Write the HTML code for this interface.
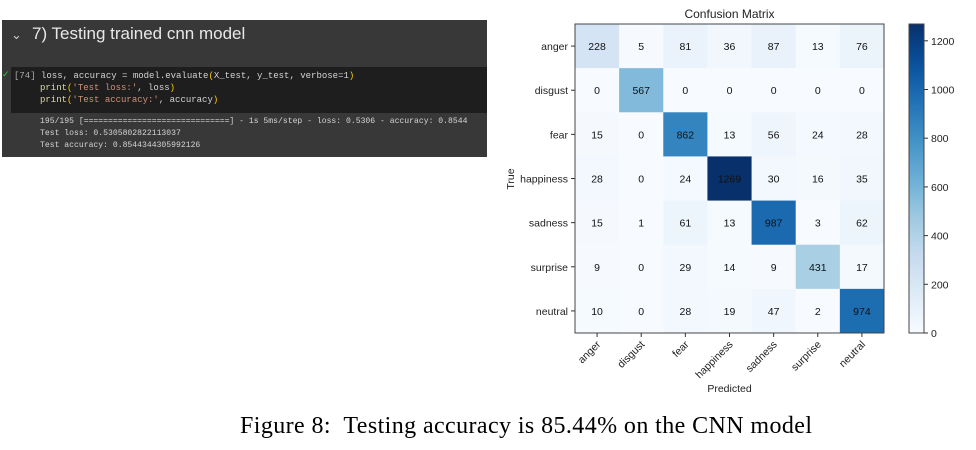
<!DOCTYPE html>
<html><head><meta charset="utf-8"><style>
body{margin:0;background:#fff;width:976px;height:450px;overflow:hidden;position:relative;font-family:"Liberation Sans",sans-serif}
#nb{position:absolute;left:2px;top:20px;width:485px;height:137px;background:#383838}
#code{position:absolute;left:11px;top:67px;width:476px;height:46px;background:#1e1e1e}
.mono{font-family:"Liberation Mono",monospace;font-size:9px;white-space:pre;position:absolute;color:#d4d4d4}
</style></head><body>
<div id="nb"></div>
<div style="position:absolute;left:11px;top:27px;color:#ccc;font-size:13px">⌄</div>
<div style="position:absolute;left:32px;top:24px;color:#e8e8e8;font-size:17px">7) Testing trained cnn model</div>
<div id="code"></div>
<div style="position:absolute;left:2px;top:69px;color:#3c3;font-size:9px">✓</div>
<div class="mono" style="left:14px;top:71px"><span style="color:#aaa">[74]</span> loss, accuracy = model.evaluate<span style="color:#fc0">(</span>X_test, y_test, verbose=1<span style="color:#fc0">)</span></div>
<div class="mono" style="left:40px;top:83px"><span style="color:#dcdcaa">print</span><span style="color:#fc0">(</span><span style="color:#ce9178">'Test loss:'</span>, loss<span style="color:#fc0">)</span></div>
<div class="mono" style="left:40px;top:95px"><span style="color:#dcdcaa">print</span><span style="color:#fc0">(</span><span style="color:#ce9178">'Test accuracy:'</span>, accuracy<span style="color:#fc0">)</span></div>
<div class="mono" style="left:40px;top:117px;font-size:8.1px">195/195 [==============================] - 1s 5ms/step - loss: 0.5306 - accuracy: 0.8544</div>
<div class="mono" style="left:40px;top:129px;font-size:8.1px">Test loss: 0.5305802822113037</div>
<div class="mono" style="left:40px;top:141px;font-size:8.1px">Test accuracy: 0.8544344305992126</div>

<svg id="chart" width="976" height="450" style="position:absolute;left:0;top:0">
<text x="240" y="433" xml:space="preserve" font-family="Liberation Serif,serif" font-size="24" textLength="572">Figure 8:  Testing accuracy is 85.44% on the CNN model</text>
</svg>
<script>
const labels=["anger","disgust","fear","happiness","sadness","surprise","neutral"];
const row0=[228,5,81,36,87,13,76];
const row1=[0,567,0,0,0,0,0];
const row2=[15,0,862,13,56,24,28];
const row3=[28,0,24,1269,30,16,35];
const row4=[15,1,61,13,987,3,62];
const row5=[9,0,29,14,9,431,17];
const row6=[10,0,28,19,47,2,974];
const cbTicks=[0,200,400,600,800,1000,1200];
const matrix=[row0,row1,row2,row3,row4,row5,row6];
const NS="http://www.w3.org/2000/svg",svg=document.getElementById('chart');
const X0=575,Y0=24,W=309,n=labels.length,cw=W/n;
let vmax=0;matrix.forEach(r=>r.forEach(v=>{if(v>vmax)vmax=v;}));
const stops=["#f7fbff","#deebf7","#c6dbef","#9ecae1","#6baed6","#4292c6","#2171b5","#08519c","#08306b"];
function hex(h){return[1,3,5].map(i=>parseInt(h.substr(i,2),16));}
function blues(t){t=Math.max(0,Math.min(1,t));const p=t*(stops.length-1),i=Math.min(Math.floor(p),stops.length-2),f=p-i;const a=hex(stops[i]),b=hex(stops[i+1]);return`rgb(${a.map((c,k)=>Math.round(c+(b[k]-c)*f)).join(',')})`;}
function el(tag,at,txt){const e=document.createElementNS(NS,tag);for(const k in at)e.setAttribute(k,at[k]);if(txt!==undefined)e.textContent=txt;svg.appendChild(e);return e;}
const xs=i=>X0+i*cw, ys=i=>Y0+i*cw;
matrix.forEach((r,i)=>r.forEach((v,j)=>{
 const c=el('rect',{x:xs(j),y:ys(i),width:cw+0.5,height:cw+0.5,fill:blues(v/vmax)});
 
 
 const t=el('text',{x:xs(j)+cw/2,y:ys(i)+cw/2+4,'text-anchor':'middle','font-size':10.5,fill:'#111'},v);
 
 
}));
const fr=el('rect',{x:X0,y:Y0,width:W,height:W,fill:'none',stroke:'#444','stroke-width':1});


labels.forEach((l,i)=>{
 el('line',{x1:X0-4,x2:X0,y1:ys(i)+cw/2,y2:ys(i)+cw/2,stroke:'#333'});
 const yl=el('text',{x:X0-7,y:ys(i)+cw/2+4,'text-anchor':'end','font-size':10.5,fill:'#222'},l);
 
 
 const cx=xs(i)+cw/2;
 el('line',{x1:cx,x2:cx,y1:Y0+W,y2:Y0+W+4,stroke:'#333'});
 const xl=el('text',{x:cx+4,y:Y0+W+12,'text-anchor':'end','font-size':10.5,fill:'#222',transform:`rotate(-45 ${cx+4} ${Y0+W+12})`},l);
 
 
});
const ttl=el('text',{x:X0+W/2,y:18,'text-anchor':'middle','font-size':12,fill:'#222'},'Confusion Matrix');


const xt=el('text',{x:X0+W/2,y:392,'text-anchor':'middle','font-size':10.5,fill:'#222'},'Predicted');


const yt=el('text',{x:514,y:179,'text-anchor':'middle','font-size':10.5,fill:'#222',transform:'rotate(-90 514 179)'},'True');


const CX=909,CW=15,defs=el('defs',{});
const g=document.createElementNS(NS,'linearGradient');g.setAttribute('id','cb');g.setAttribute('x1',0);g.setAttribute('y1',1);g.setAttribute('x2',0);g.setAttribute('y2',0);defs.appendChild(g);
for(let k=0;k<=20;k++){const s=document.createElementNS(NS,'stop');s.setAttribute('offset',k/20);s.setAttribute('stop-color',blues(k/20));g.appendChild(s);}
const cb=el('rect',{x:CX,y:Y0,width:CW,height:W,fill:'url(#cb)',stroke:'#444'});


const cy=v=>Y0+W-v/vmax*W;
cbTicks.forEach(v=>{
 el('line',{x1:CX+CW,x2:CX+CW+4,y1:cy(v),y2:cy(v),stroke:'#333'});
 const t=el('text',{x:CX+CW+7,y:cy(v)+4,'font-size':10.5,fill:'#222'},v);
 
 
});
</script>
</body></html>
